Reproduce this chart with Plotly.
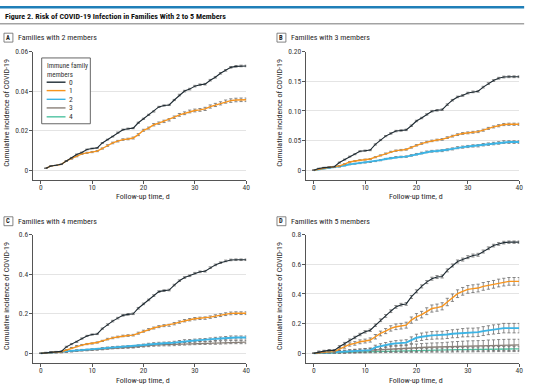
import plotly.graph_objects as go

W, H = 550, 389
FONT = "Liberation Sans Narrow, Roboto Condensed, DejaVu Sans Condensed, Roboto, sans-serif"

# ---------------- data ----------------
DAYS = list(range(0, 41))
DAYS_A = list(range(1, 41))
LEVELS = ["0", "1", "2", "3", "4"]
COLORS = ["#1e2b33", "#f7941d", "#3cb4e5", "#8a8078", "#4fc3a1"]

# Panel A: families with 2 members (days 1..40)
A0 = [0.0010,0.0022,0.0025,0.0030,0.0047,0.0063,0.0080,0.0090,0.0105,0.0110,0.0113,0.0138,0.0155,0.0170,0.0190,0.0205,0.0210,0.0213,0.0240,0.0260,0.0280,0.0297,0.0320,0.0327,0.0330,0.0355,0.0380,0.0400,0.0410,0.0425,0.0432,0.0435,0.0455,0.0470,0.0490,0.0505,0.0520,0.0525,0.0527,0.0527]
A1 = [0.0010,0.0022,0.0025,0.0030,0.0047,0.0058,0.0070,0.0083,0.0088,0.0092,0.0097,0.0110,0.0125,0.0138,0.0147,0.0155,0.0158,0.0163,0.0180,0.0202,0.0213,0.0230,0.0238,0.0247,0.0255,0.0268,0.0280,0.0288,0.0297,0.0302,0.0305,0.0310,0.0322,0.0330,0.0338,0.0347,0.0352,0.0355,0.0356,0.0356]
eA0 = [0.0001,0.0001,0.0001,0.0001,0.0002,0.0002,0.0002,0.0002,0.0002,0.0002,0.0002,0.0002,0.0002,0.0002,0.0003,0.0003,0.0003,0.0003,0.0003,0.0003,0.0003,0.0003,0.0003,0.0003,0.0003,0.0003,0.0004,0.0004,0.0004,0.0004,0.0004,0.0004,0.0004,0.0004,0.0004,0.0004,0.0004,0.0004,0.0004,0.0004]
eA1 = [0.0001,0.0001,0.0001,0.0001,0.0002,0.0002,0.0002,0.0003,0.0003,0.0003,0.0003,0.0003,0.0004,0.0004,0.0004,0.0004,0.0004,0.0005,0.0005,0.0005,0.0005,0.0006,0.0006,0.0006,0.0006,0.0006,0.0007,0.0007,0.0007,0.0007,0.0007,0.0008,0.0008,0.0008,0.0008,0.0008,0.0009,0.0009,0.0009,0.0009]

# Panel B: families with 3 members (days 0..40)
B0 = [0,0.003,0.0045,0.005,0.006,0.013,0.018,0.023,0.027,0.032,0.033,0.034,0.0435,0.051,0.0575,0.062,0.066,0.067,0.068,0.075,0.083,0.088,0.094,0.0995,0.101,0.102,0.1105,0.118,0.1235,0.126,0.130,0.132,0.133,0.140,0.146,0.151,0.155,0.157,0.1575,0.1575,0.1575]
B1 = [0,0.002,0.004,0.005,0.006,0.0073,0.0105,0.014,0.0155,0.017,0.018,0.019,0.022,0.025,0.028,0.031,0.033,0.034,0.035,0.0385,0.042,0.045,0.0475,0.0495,0.051,0.052,0.055,0.0575,0.060,0.062,0.063,0.064,0.065,0.0675,0.0705,0.073,0.075,0.077,0.0775,0.0775,0.0775]
B2 = [0,0.002,0.003,0.004,0.005,0.006,0.008,0.010,0.011,0.012,0.013,0.014,0.0155,0.017,0.019,0.0205,0.022,0.0225,0.023,0.025,0.027,0.029,0.031,0.032,0.0325,0.033,0.0345,0.036,0.038,0.039,0.040,0.041,0.0413,0.043,0.044,0.045,0.046,0.0475,0.0475,0.0475,0.0475]
eB0 = [0,0.0005,0.0005,0.0005,0.0005,0.0008,0.0008,0.0008,0.0008,0.0008,0.0010,0.0010,0.0010,0.0010,0.0010,0.0012,0.0012,0.0012,0.0012,0.0012,0.0012,0.0012,0.0012,0.0013,0.0013,0.0013,0.0013,0.0013,0.0013,0.0014,0.0014,0.0014,0.0014,0.0014,0.0014,0.0015,0.0015,0.0015,0.0015,0.0015,0.0015]
eB1 = [0,0.0005,0.0005,0.0005,0.0005,0.0006,0.0006,0.0007,0.0007,0.0008,0.0008,0.0008,0.0009,0.0009,0.0010,0.0010,0.0011,0.0011,0.0011,0.0012,0.0012,0.0013,0.0013,0.0013,0.0014,0.0014,0.0014,0.0015,0.0015,0.0015,0.0016,0.0016,0.0016,0.0017,0.0017,0.0017,0.0018,0.0018,0.0018,0.0018,0.0018]
eB2 = [0,0.0004,0.0004,0.0005,0.0005,0.0006,0.0006,0.0007,0.0007,0.0008,0.0008,0.0009,0.0009,0.0010,0.0010,0.0011,0.0011,0.0012,0.0012,0.0013,0.0013,0.0014,0.0014,0.0015,0.0015,0.0016,0.0016,0.0017,0.0017,0.0018,0.0018,0.0019,0.0019,0.0020,0.0020,0.0021,0.0021,0.0022,0.0022,0.0022,0.0022]

# Panel C: families with 4 members
C0 = [0,0.003,0.007,0.008,0.010,0.033,0.047,0.058,0.075,0.088,0.095,0.098,0.125,0.145,0.163,0.178,0.192,0.197,0.200,0.228,0.250,0.270,0.292,0.312,0.317,0.320,0.345,0.367,0.383,0.392,0.405,0.412,0.415,0.433,0.447,0.458,0.467,0.472,0.473,0.473,0.473]
C1 = [0,0.003,0.006,0.007,0.008,0.017,0.028,0.037,0.042,0.047,0.050,0.055,0.063,0.072,0.078,0.083,0.088,0.090,0.092,0.102,0.112,0.120,0.128,0.135,0.140,0.142,0.150,0.158,0.165,0.170,0.175,0.177,0.178,0.183,0.188,0.193,0.198,0.202,0.203,0.203,0.203]
C2 = [0,0.002,0.004,0.005,0.006,0.008,0.012,0.015,0.017,0.018,0.020,0.022,0.025,0.028,0.030,0.032,0.033,0.034,0.035,0.038,0.042,0.045,0.048,0.050,0.051,0.052,0.055,0.058,0.062,0.063,0.065,0.067,0.068,0.070,0.073,0.075,0.077,0.080,0.080,0.080,0.080]
C3 = [0,0.002,0.003,0.004,0.005,0.007,0.010,0.013,0.015,0.016,0.018,0.020,0.022,0.025,0.027,0.029,0.030,0.031,0.032,0.035,0.038,0.040,0.042,0.043,0.044,0.044,0.046,0.048,0.049,0.050,0.051,0.052,0.052,0.053,0.054,0.055,0.056,0.057,0.057,0.057,0.057]
eC0 = [0,0.002,0.002,0.002,0.002,0.003,0.003,0.003,0.003,0.003,0.003,0.003,0.003,0.004,0.004,0.004,0.004,0.004,0.004,0.004,0.004,0.004,0.004,0.004,0.004,0.004,0.004,0.004,0.004,0.004,0.004,0.004,0.004,0.004,0.004,0.004,0.004,0.004,0.004,0.004,0.004]
eC1 = [0,0.002,0.002,0.002,0.002,0.002,0.002,0.003,0.003,0.003,0.003,0.003,0.003,0.004,0.004,0.004,0.004,0.004,0.004,0.005,0.005,0.005,0.005,0.005,0.005,0.005,0.006,0.006,0.006,0.006,0.006,0.006,0.006,0.006,0.007,0.007,0.007,0.007,0.007,0.007,0.007]
eC2 = [0,0.002,0.002,0.002,0.002,0.002,0.003,0.003,0.003,0.003,0.003,0.003,0.004,0.004,0.004,0.004,0.004,0.005,0.005,0.005,0.005,0.006,0.006,0.006,0.006,0.006,0.006,0.007,0.007,0.007,0.007,0.007,0.007,0.008,0.008,0.008,0.008,0.008,0.008,0.008,0.008]
eC3 = [0,0.002,0.002,0.002,0.002,0.002,0.003,0.003,0.003,0.003,0.003,0.004,0.004,0.004,0.004,0.005,0.005,0.005,0.005,0.005,0.006,0.006,0.006,0.006,0.006,0.006,0.007,0.007,0.007,0.007,0.007,0.007,0.007,0.007,0.008,0.008,0.008,0.008,0.008,0.008,0.008]

# Panel D: families with 5 members
D0 = [0,0.010,0.015,0.020,0.020,0.045,0.067,0.090,0.107,0.127,0.145,0.156,0.190,0.223,0.252,0.284,0.313,0.328,0.333,0.380,0.418,0.451,0.480,0.503,0.514,0.518,0.559,0.592,0.619,0.632,0.648,0.659,0.664,0.686,0.708,0.726,0.737,0.746,0.749,0.749,0.749]
D1 = [0,0.005,0.008,0.010,0.012,0.029,0.045,0.060,0.067,0.078,0.083,0.090,0.112,0.134,0.150,0.168,0.179,0.183,0.190,0.224,0.246,0.261,0.284,0.302,0.308,0.317,0.346,0.375,0.402,0.418,0.431,0.436,0.440,0.451,0.458,0.465,0.474,0.480,0.485,0.485,0.485]
D2 = [0,0.003,0.005,0.006,0.008,0.010,0.012,0.015,0.017,0.018,0.020,0.022,0.040,0.049,0.056,0.063,0.067,0.070,0.072,0.089,0.105,0.112,0.118,0.121,0.123,0.123,0.127,0.132,0.134,0.139,0.141,0.141,0.143,0.150,0.156,0.161,0.165,0.170,0.170,0.170,0.170]
D3 = [0,0.003,0.005,0.006,0.008,0.010,0.012,0.014,0.016,0.018,0.020,0.022,0.025,0.028,0.030,0.032,0.033,0.034,0.035,0.037,0.038,0.040,0.041,0.042,0.043,0.043,0.045,0.047,0.048,0.049,0.050,0.051,0.051,0.052,0.054,0.055,0.056,0.057,0.057,0.057,0.057]
D4 = [0,0.002,0.003,0.004,0.005,0.006,0.007,0.008,0.009,0.010,0.011,0.012,0.013,0.014,0.015,0.016,0.017,0.017,0.018,0.019,0.020,0.021,0.021,0.022,0.022,0.022,0.023,0.024,0.025,0.025,0.026,0.026,0.027,0.027,0.028,0.028,0.029,0.029,0.030,0.030,0.030]
eD0 = [0,0.006,0.006,0.006,0.006,0.007,0.007,0.007,0.008,0.008,0.008,0.008,0.008,0.009,0.009,0.009,0.009,0.009,0.009,0.010,0.010,0.010,0.010,0.010,0.010,0.010,0.010,0.010,0.010,0.010,0.010,0.010,0.010,0.010,0.009,0.009,0.009,0.009,0.008,0.008,0.008]
eD1 = [0,0.006,0.006,0.006,0.006,0.008,0.010,0.011,0.012,0.013,0.013,0.014,0.015,0.016,0.017,0.018,0.019,0.019,0.020,0.021,0.022,0.022,0.023,0.024,0.024,0.024,0.025,0.025,0.026,0.026,0.026,0.026,0.026,0.026,0.026,0.026,0.026,0.026,0.026,0.026,0.026]
eD2 = [0,0.004,0.005,0.006,0.006,0.007,0.008,0.009,0.010,0.010,0.011,0.012,0.015,0.016,0.017,0.018,0.019,0.019,0.020,0.022,0.024,0.025,0.025,0.026,0.026,0.026,0.027,0.027,0.028,0.028,0.029,0.029,0.029,0.030,0.030,0.031,0.031,0.032,0.032,0.032,0.032]
eD3 = [0,0.004,0.005,0.006,0.007,0.008,0.009,0.010,0.011,0.012,0.013,0.014,0.016,0.018,0.019,0.020,0.021,0.022,0.023,0.024,0.025,0.026,0.027,0.028,0.028,0.029,0.030,0.031,0.032,0.033,0.034,0.034,0.035,0.035,0.036,0.036,0.037,0.037,0.038,0.038,0.038]
eD4 = [0,0.003,0.004,0.004,0.005,0.005,0.006,0.006,0.007,0.007,0.008,0.008,0.009,0.009,0.010,0.010,0.011,0.011,0.012,0.012,0.013,0.013,0.013,0.014,0.014,0.014,0.015,0.015,0.015,0.016,0.016,0.016,0.016,0.017,0.017,0.017,0.017,0.018,0.018,0.018,0.018]

X_TICKS = [0, 10, 20, 30, 40]
Y_TICKS_A = [0, 0.02, 0.04, 0.06]
Y_LABELS_A = ["0", "0.02", "0.04", "0.06"]
Y_TICKS_B = [0, 0.05, 0.10, 0.15, 0.20]
Y_LABELS_B = ["0", "0.05", "0.10", "0.15", "0.20"]
Y_TICKS_C = [0, 0.2, 0.4, 0.6]
Y_LABELS_C = ["0", "0.2", "0.4", "0.6"]
Y_TICKS_D = [0, 0.2, 0.4, 0.6, 0.8]
Y_LABELS_D = ["0", "0.2", "0.4", "0.6", "0.8"]

TITLE = "Figure 2. Risk of COVID-19 Infection in Families With 2 to 5 Members"
PANEL_LETTERS = ["A", "B", "C", "D"]
PANEL_TITLES = ["Families with 2 members", "Families with 3 members",
                "Families with 4 members", "Families with 5 members"]
X_TITLE = "Follow-up time, d"
Y_TITLE = "Cumulative incidence of COVID-19"
LEGEND_TITLE = ["Immune family", "members"]

panels = [
    dict(days=DAYS_A, series=[A0, A1], errs=[eA0, eA1], ax=("x", "y")),
    dict(days=DAYS, series=[B0, B1, B2], errs=[eB0, eB1, eB2], ax=("x2", "y2")),
    dict(days=DAYS, series=[C0, C1, C2, C3], errs=[eC0, eC1, eC2, eC3], ax=("x3", "y3")),
    dict(days=DAYS, series=[D0, D1, D2, D3, D4], errs=[eD0, eD1, eD2, eD3, eD4], ax=("x4", "y4")),
]
WIDTHS = [1.1, 1.4, 1.9, 1.4, 1.4]

fig = go.Figure()
for p in panels:
    n = len(p["series"])
    for k in reversed(range(n)):
        fig.add_trace(go.Scatter(
            x=p["days"], y=p["series"][k], mode="lines", name=LEVELS[k],
            line=dict(shape="linear", color=COLORS[k], width=WIDTHS[k]),
            error_y=dict(type="data", array=p["errs"][k], color="#6f6f6f",
                         thickness=0.8, width=1.6),
            xaxis=p["ax"][0], yaxis=p["ax"][1], showlegend=False,
            hoverinfo="skip"))

def px(x):
    return x / W

def py(y):
    return 1 - y / H

# geometry (pixels)
XL = [(33, 248), (308, 523)]
YT = [(48, 178), (233, 363)]

axis_common = dict(showline=True, linecolor="#555555", linewidth=1,
                   ticks="outside", ticklen=3, tickwidth=1, tickcolor="#555555",
                   tickfont=dict(family=FONT, size=7.5, color="#3a3a3a"),
                   zeroline=False, fixedrange=True)

layout_axes = {}
yspecs = [
    ((-0.005, 0.06), Y_TICKS_A, Y_LABELS_A),
    ((-0.2 / 12, 0.20), Y_TICKS_B, Y_LABELS_B),
    ((-0.05, 0.6), Y_TICKS_C, Y_LABELS_C),
    ((-0.8 / 12, 0.8), Y_TICKS_D, Y_LABELS_D),
]
for i in range(4):
    col = i % 2
    row = i // 2
    xs = "" if i == 0 else str(i + 1)
    xd = [px(XL[col][0]), px(XL[col][1])]
    yd = [py(YT[row][1]), py(YT[row][0])]
    layout_axes["xaxis" + xs] = dict(axis_common, domain=xd, range=[-1.55, 40],
                                     tickvals=X_TICKS, showgrid=False,
                                     anchor="y" + xs, ticklabelstandoff=-3)
    rng, tv, tl = yspecs[i]
    layout_axes["yaxis" + xs] = dict(axis_common, domain=yd, range=list(rng),
                                     tickvals=tv, ticktext=tl, showgrid=True,
                                     gridcolor="#e4e4e4", gridwidth=1,
                                     anchor="x" + xs, ticklabelstandoff=-1)

fig.update_layout(**layout_axes)

shapes = []
annotations = []

# header lines
shapes.append(dict(type="line", xref="paper", yref="paper", x0=0, x1=px(528),
                   y0=py(3.3), y1=py(3.3), line=dict(color="#1f7fb8", width=2.3)))
shapes.append(dict(type="line", xref="paper", yref="paper", x0=0, x1=px(528),
                   y0=py(20), y1=py(20), line=dict(color="#a3a3a3", width=1.5)))
annotations.append(dict(text="<b>" + TITLE + "</b>", xref="paper", yref="paper", x=px(3), y=py(12.5),
                        xanchor="left", yanchor="middle", showarrow=False,
                        font=dict(family=FONT, size=8, color="#111111")))

# panel labels & axis titles
label_pos = [(4, 34), (279, 34), (4, 219.5), (279, 219.5)]
for i in range(4):
    col = i % 2
    row = i // 2
    lx, ly = label_pos[i]
    shapes.append(dict(type="rect", xref="paper", yref="paper",
                       x0=px(lx), x1=px(lx + 9), y0=py(ly - 4.5), y1=py(ly + 4.5),
                       line=dict(color="#666666", width=0.8), fillcolor="white"))
    annotations.append(dict(text="<b>" + PANEL_LETTERS[i] + "</b>", xref="paper", yref="paper",
                            x=px(lx + 4.5), y=py(ly), xanchor="center", yanchor="middle",
                            showarrow=False, font=dict(family=FONT, size=6.5, color="#222222")))
    annotations.append(dict(text=PANEL_TITLES[i], xref="paper", yref="paper",
                            x=px(lx + 12.5), y=py(ly), xanchor="left", yanchor="middle",
                            showarrow=False, font=dict(family=FONT, size=8, color="#2a2a2a")))
    # x title
    xc = (XL[col][0] + 8 + XL[col][1]) / 2
    annotations.append(dict(text=X_TITLE, xref="paper", yref="paper",
                            x=px(xc), y=py(YT[row][1] + 17), xanchor="center", yanchor="middle",
                            showarrow=False, font=dict(family=FONT, size=8, color="#2a2a2a")))
    # y title
    yc = (YT[row][0] + YT[row][1]) / 2 - 3
    annotations.append(dict(text=Y_TITLE, xref="paper", yref="paper", textangle=-90,
                            x=px(XL[col][0] - 26), y=py(yc), xanchor="center", yanchor="middle",
                            showarrow=False, font=dict(family=FONT, size=8, color="#2a2a2a")))

# legend box (panel A)
shapes.append(dict(type="rect", xref="paper", yref="paper",
                   x0=px(42), x1=px(91), y0=py(121), y1=py(54.5),
                   line=dict(color="#555555", width=0.9), fillcolor="white", layer="above"))
annotations.append(dict(text=LEGEND_TITLE[0] + "<br>" + LEGEND_TITLE[1], xref="paper", yref="paper",
                        x=px(45), y=py(56.5), xanchor="left", yanchor="top", align="left",
                        showarrow=False, font=dict(family=FONT, size=7, color="#333333")))
item_y = [79, 87.5, 96.3, 105, 114]
for k in range(5):
    shapes.append(dict(type="line", xref="paper", yref="paper",
                       x0=px(47), x1=px(66), y0=py(item_y[k]), y1=py(item_y[k]),
                       line=dict(color=COLORS[k], width=1.4), layer="above"))
    annotations.append(dict(text=LEVELS[k], xref="paper", yref="paper",
                            x=px(67.5), y=py(item_y[k]), xanchor="left", yanchor="middle",
                            showarrow=False, font=dict(family=FONT, size=7.5, color="#333333")))

fig.update_layout(
    width=W, height=H, margin=dict(l=0, r=0, t=0, b=0),
    paper_bgcolor="white", plot_bgcolor="white",
    showlegend=False, shapes=shapes, annotations=annotations,
    font=dict(family=FONT, size=8, color="#333333"),
)

fig.write_html(
    "out.html",
    config={"displayModeBar": False},
    post_script="document.documentElement.style.margin='0';"
                "document.body.style.margin='0';document.body.style.padding='0';"
                "document.body.style.overflow='hidden';"
                "var d=document.getElementById('{plot_id}');"
                "d.style.position='fixed';d.style.top='0px';d.style.left='0px';",
)
